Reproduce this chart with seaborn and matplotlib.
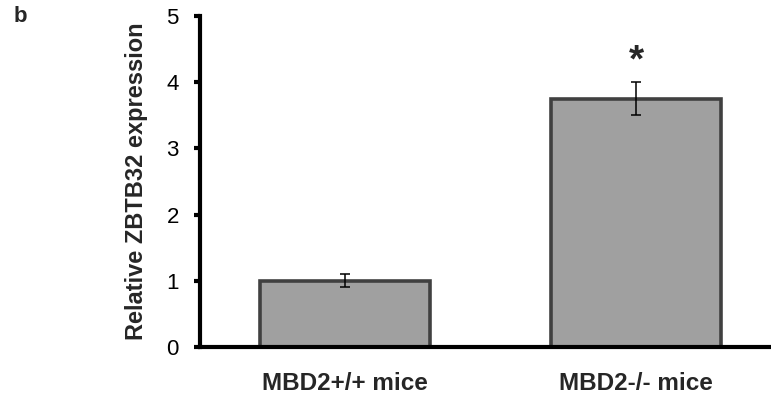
import matplotlib
matplotlib.use("Agg")
import matplotlib.pyplot as plt
import seaborn as sns
import pandas as pd

categories = ["MBD2+/+ mice", "MBD2-/- mice"]
values = [1.0, 3.75]
errors = [0.10, 0.25]
significance = ["", "*"]
yticks = [0, 1, 2, 3, 4, 5]

sns.set_theme(style="white")
plt.rcParams['font.family'] = ['Liberation Sans', 'DejaVu Sans']

df = pd.DataFrame({"group": categories, "value": values})

fig = plt.figure(figsize=(7.71, 3.96), dpi=100)
ax = fig.add_axes([0.2600, 0.1237, 0.7400, 0.8359])

sns.barplot(data=df, x="group", y="value", color="#a0a0a0", width=0.584,
            edgecolor="#404040", linewidth=2.6, errorbar=None, ax=ax, saturation=1)
ax.errorbar(x=list(range(len(categories))), y=values, yerr=errors, fmt="none",
            ecolor="black", elinewidth=1.1, capsize=3.3, capthick=1.1)
for i, (v, e, s) in enumerate(zip(values, errors, significance)):
    if s:
        ax.text(i, v + e + 0.04, s, ha="center", va="bottom", fontsize=28, fontweight="bold")

ax.set_xlim(-0.498, 1.464)
ax.set_ylim(0, 5)
ax.set_yticks(yticks)
ax.set_xlabel("")
ax.set_ylabel("Relative ZBTB32 expression", fontsize=17, fontweight="bold", labelpad=13)
for sp in ["top", "right"]:
    ax.spines[sp].set_visible(False)
for sp in ["left", "bottom"]:
    ax.spines[sp].set_linewidth(3)
    ax.spines[sp].set_color("black")
ax.tick_params(axis="y", which="both", left=True, length=4.5, width=3, direction="out",
               labelsize=16, pad=11, colors="black")
ax.tick_params(axis="x", bottom=False, length=0, labelsize=17.5, pad=18)
for lbl in ax.get_xticklabels():
    lbl.set_fontweight("bold")

fig.text(0.017, 0.985, "b", fontsize=16, fontweight="bold", va="top", ha="left")

fig.savefig("out.png", dpi=100)
